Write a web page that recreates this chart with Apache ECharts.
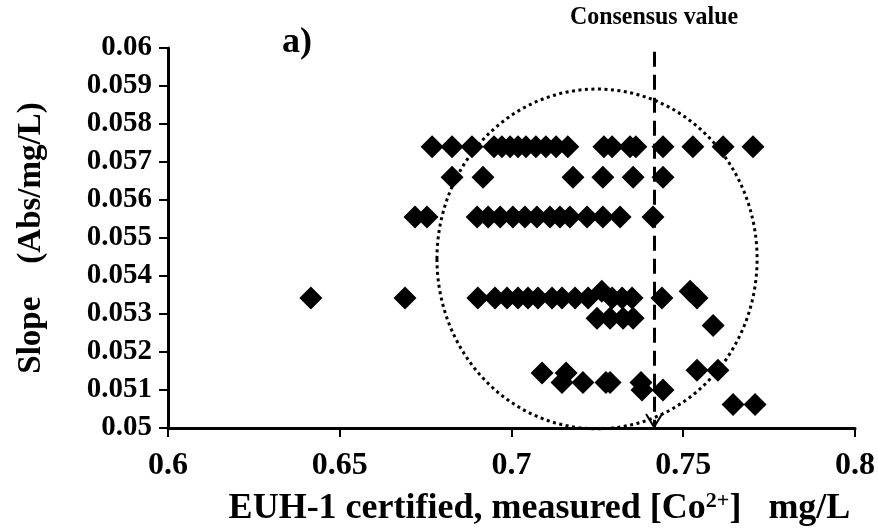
<!DOCTYPE html>
<html>
<head>
<meta charset="utf-8">
<script src="https://cdn.jsdelivr.net/npm/echarts@6/dist/echarts.min.js"></script>
<style>html,body{margin:0;padding:0;background:#fff}#c{width:878px;height:528px}</style>
</head>
<body>
<div id="c"></div>
<script>
// ---- data (measured Co2+ in mg/L, slope in Abs/mg/L) ----
const xTicks = [0.6, 0.65, 0.7, 0.75, 0.8];
const yTicks = [0.05, 0.051, 0.052, 0.053, 0.054, 0.055, 0.056, 0.057, 0.058, 0.059, 0.06];
const consensusValue = 0.7415;

const row0574 = [0.6769, 0.6827, 0.6885, 0.6949, 0.6972, 0.6996, 0.7019, 0.7042, 0.7071, 0.7100, 0.7130, 0.7164, 0.7269, 0.7293, 0.7345, 0.7362, 0.7441, 0.7528, 0.7616, 0.7703];
const row0566 = [0.6827, 0.6917, 0.7179, 0.7266, 0.7354, 0.7441];
const row0555 = [0.6719, 0.6754, 0.6900, 0.6932, 0.6967, 0.7004, 0.7039, 0.7074, 0.7112, 0.7141, 0.7170, 0.7220, 0.7266, 0.7316, 0.7412];
const row0534 = [0.6416, 0.6690, 0.6902, 0.6952, 0.6987, 0.7019, 0.7048, 0.7077, 0.7118, 0.7147, 0.7185, 0.7223, 0.7293, 0.7322, 0.7351, 0.7438, 0.7540];
const row0536 = [0.7263, 0.7520];
const row0529 = [0.7249, 0.7287, 0.7325, 0.7354];
const row0527 = [0.7587];
const row05145 = [0.7089, 0.7159];
const row05152 = [0.7540, 0.7601];
const row0512 = [0.7147, 0.7208, 0.7275, 0.7287, 0.7377];
const row0510 = [0.7380, 0.7441];
const row0506 = [0.7645, 0.7709];

const rows = [
  [0.0574, row0574], [0.0566, row0566], [0.05555, row0555], [0.05342, row0534],
  [0.05360, row0536], [0.05289, row0529], [0.0527, row0527], [0.05145, row05145],
  [0.05152, row05152], [0.05120, row0512], [0.05100, row0510], [0.05062, row0506]
];

// ellipse annotation (data coords)
const ellipseCenter = [0.7249, 0.05445];
const ellipseRadius = [0.0466, 0.00447];

(function(){
const points = [];
rows.forEach(([s, xs]) => xs.forEach(x => points.push([x, s])));
const F = '"Liberation Serif", "Times New Roman", serif';

const chart = echarts.init(document.getElementById('c'));
function fmt(v){ return String(parseFloat(v.toFixed(3))); }
chart.setOption({
  animation: false,
  backgroundColor: '#fff',
  grid: { left: 168, right: 23, top: 48, bottom: 100, containLabel: false, outerBoundsMode: 'none' },
  xAxis: {
    type: 'value', min: xTicks[0], max: xTicks[xTicks.length-1], interval: 0.05,
    axisLine: { lineStyle: { color: '#000', width: 3 } },
    axisTick: { show: true, inside: false, length: 9, lineStyle: { color: '#000', width: 2 } },
    splitLine: { show: false },
    axisLabel: { color: '#000', fontFamily: F, fontWeight: 'bold', fontSize: 32, margin: 22, formatter: v => fmt(v) },
    name: 'EUH-1 certified, measured [Co{sup|2+}]   mg/L',
    nameLocation: 'middle', nameGap: 62,
    nameTextStyle: { color: '#000', fontFamily: F, fontWeight: 'bold', fontSize: 36, padding: [0, 0, 0, 56],
      rich: { sup: { fontFamily: F, fontWeight: 'bold', fontSize: 22, color: '#000', padding: [0,0,15,0] } } }
  },
  yAxis: {
    type: 'value', min: yTicks[0], max: yTicks[yTicks.length-1], interval: 0.001,
    axisLine: { show: true, lineStyle: { color: '#000', width: 3 } },
    axisTick: { show: true, inside: false, length: 9, lineStyle: { color: '#000', width: 2 } },
    splitLine: { show: false },
    axisLabel: { color: '#000', fontFamily: F, fontWeight: 'bold', fontSize: 29, margin: 16, formatter: v => fmt(v) },
    name: 'Slope    (Abs/mg/L)',
    nameLocation: 'middle', nameGap: 120, nameRotate: 90,
    nameTextStyle: { color: '#000', fontFamily: F, fontWeight: 'bold', fontSize: 33 }
  },
  series: [{
    type: 'scatter',
    symbol: 'diamond', symbolSize: 23,
    itemStyle: { color: '#000', opacity: 1 },
    data: points,
    z: 3
  }, {
    type: 'line', data: [], silent: true,
    markLine: {
      silent: true, symbol: ['none', 'none'],
      label: { show: false },
      lineStyle: { color: '#000', width: 3, type: [15, 8] },
      data: [[{ coord: [consensusValue, 0.0599] }, { coord: [consensusValue, 0.05] }]]
    }
  }]
});

const c = chart.convertToPixel({ gridIndex: 0 }, ellipseCenter);
const e = chart.convertToPixel({ gridIndex: 0 }, [ellipseCenter[0] + ellipseRadius[0], ellipseCenter[1] + ellipseRadius[1]]);
const rx = e[0] - c[0], ry = c[1] - e[1];
const bot = chart.convertToPixel({ gridIndex: 0 }, [consensusValue, 0.05]);

chart.setOption({
  graphic: [
    { type: 'ellipse', shape: { cx: c[0], cy: c[1], rx: rx, ry: ry }, z: 10,
      style: { fill: null, stroke: '#000', lineWidth: 3, lineDash: [3, 3.5] } },
    { type: 'polyline', shape: { points: [[bot[0]-8, bot[1]-14], [bot[0], bot[1]-1], [bot[0]+8, bot[1]-14]] }, z: 10,
      style: { fill: null, stroke: '#000', lineWidth: 2 } },
    { type: 'text', x: bot[0], y: 17, z: 10, scaleX: 0.92, scaleY: 1,
      style: { text: 'Consensus value', fill: '#000', font: 'bold 26px ' + F, align: 'center', verticalAlign: 'middle' } },
    { type: 'text', x: 297, y: 43, z: 10,
      style: { text: 'a)', fill: '#000', font: 'bold 36px ' + F, align: 'center', verticalAlign: 'middle' } }
  ]
});
})();
</script>
</body>
</html>
